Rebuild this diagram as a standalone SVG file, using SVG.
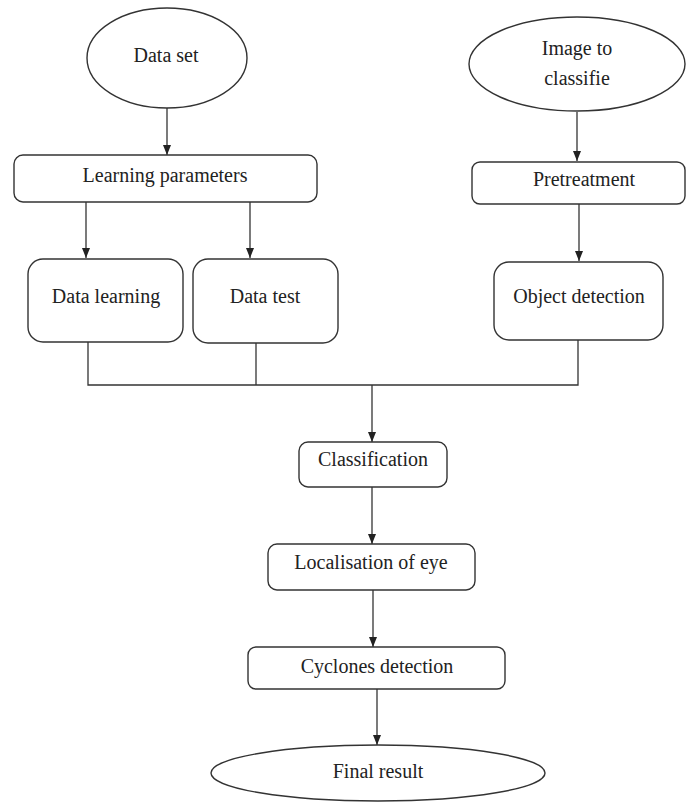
<svg xmlns="http://www.w3.org/2000/svg" width="687" height="804" viewBox="0 0 687 804">
<style>
.n{fill:#fff;stroke:#333;stroke-width:1.4}
.t{font-family:'Liberation Serif','DejaVu Serif',serif;font-size:20px;fill:#222;text-anchor:middle}
.c{fill:none;stroke:#333;stroke-width:1.3}
</style>
<defs>
<marker id="ah" markerUnits="userSpaceOnUse" markerWidth="10" markerHeight="10" viewBox="0 0 10 10" refX="10" refY="5" orient="auto">
<path d="M0,1 L10,5 L0,9 Z" fill="#222"/>
</marker>
</defs>
<rect width="687" height="804" fill="#fff"/>
<g id="connectors">
<line class="c" x1="167" y1="108" x2="167" y2="155" marker-end="url(#ah)"/>
<line class="c" x1="577" y1="112" x2="577" y2="161" marker-end="url(#ah)"/>
<line class="c" x1="86" y1="202" x2="86" y2="258" marker-end="url(#ah)"/>
<line class="c" x1="250" y1="202" x2="250" y2="258" marker-end="url(#ah)"/>
<line class="c" x1="579" y1="204" x2="579" y2="261" marker-end="url(#ah)"/>
<polyline class="c" points="88,342 88,385 578,385 578,340"/>
<line class="c" x1="256" y1="343" x2="256" y2="385"/>
<line class="c" x1="372" y1="385" x2="372" y2="442" marker-end="url(#ah)"/>
<line class="c" x1="372" y1="487" x2="372" y2="544" marker-end="url(#ah)"/>
<line class="c" x1="373" y1="590" x2="373" y2="647" marker-end="url(#ah)"/>
<line class="c" x1="377" y1="689" x2="377" y2="745" marker-end="url(#ah)"/>
</g>
<g id="data-set">
<ellipse class="n" cx="167" cy="58" rx="80" ry="50"/>
<text class="t" x="166" y="62" font-family="Liberation Serif, DejaVu Serif, serif">Data set</text>
</g>
<g id="image-to-classifie">
<ellipse class="n" cx="577" cy="64" rx="108" ry="47"/>
<text class="t" x="577" y="55">Image to</text>
<text class="t" x="577" y="85">classifie</text>
</g>
<g id="learning-parameters">
<rect class="n" x="14" y="155" width="303" height="47" rx="9"/>
<text class="t" x="165" y="182">Learning parameters</text>
</g>
<g id="pretreatment">
<rect class="n" x="472" y="162" width="213" height="42" rx="8"/>
<text class="t" x="584" y="186">Pretreatment</text>
</g>
<g id="data-learning">
<rect class="n" x="28" y="259" width="155" height="83" rx="15"/>
<text class="t" x="106" y="303">Data learning</text>
</g>
<g id="data-test">
<rect class="n" x="193" y="259" width="145" height="84" rx="15"/>
<text class="t" x="265" y="303">Data test</text>
</g>
<g id="object-detection">
<rect class="n" x="494" y="262" width="169" height="78" rx="15"/>
<text class="t" x="579" y="303">Object detection</text>
</g>
<g id="classification">
<rect class="n" x="299" y="442" width="148" height="45" rx="9"/>
<text class="t" x="373" y="466">Classification</text>
</g>
<g id="localisation">
<rect class="n" x="268" y="544" width="207" height="46" rx="9"/>
<text class="t" x="371" y="569">Localisation of eye</text>
</g>
<g id="cyclones-detection">
<rect class="n" x="248" y="647" width="257" height="42" rx="8"/>
<text class="t" x="377" y="673">Cyclones detection</text>
</g>
<g id="final-result">
<ellipse class="n" cx="378" cy="773" rx="167" ry="28"/>
<text class="t" x="378" y="778">Final result</text>
</g>
</svg>
